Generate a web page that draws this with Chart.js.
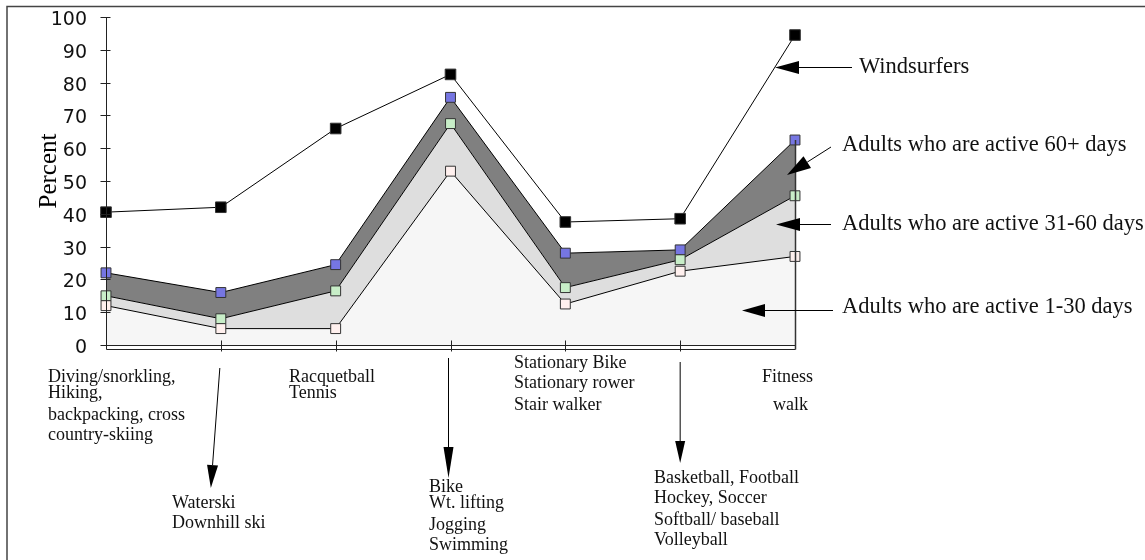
<!DOCTYPE html>
<html lang="en">
<head>
  <meta charset="UTF-8" />
  <title>Activity by sport</title>
  <script src="https://cdn.jsdelivr.net/npm/chart.js"></script>
  <style>
    body { margin: 0; background: #fff; }
    canvas { display: block; }
  </style>
</head>
<body>
  <canvas id="activityChart" width="1145" height="560"></canvas>
  <script>
    // one point per group of sports
    const categories = [
      'Diving/snorkling, Hiking, backpacking, cross country-skiing',
      'Waterski, Downhill ski',
      'Racquetball, Tennis',
      'Bike, Wt. lifting, Jogging, Swimming',
      'Stationary Bike, Stationary rower, Stair walker',
      'Basketball, Football, Hockey, Soccer, Softball/ baseball, Volleyball',
      'Fitness walk'
    ];
    const windsurfers = [40.5, 42, 66, 82.5, 37.5, 38.5, 94.5];
    const active60 = [22, 16, 24.5, 75.5, 28, 29, 62.5];
    const active31to60 = [15, 8, 16.5, 67.5, 17.5, 26, 45.5];
    const active1to30 = [12, 5, 5, 53, 12.5, 22.5, 27];
    const yTicks = [0, 10, 20, 30, 40, 50, 60, 70, 80, 90, 100];

    const seriesNames = [
      'Windsurfers',
      'Adults who are active 60+ days',
      'Adults who are active 31-60 days',
      'Adults who are active 1-30 days'
    ];

    const serif = '"Liberation Serif", "Times New Roman", serif';

    function arrow(ctx, x1, y1, x2, y2, len, half) {
      const a = Math.atan2(y2 - y1, x2 - x1);
      const bx = x2 - Math.cos(a) * len, by = y2 - Math.sin(a) * len;
      ctx.beginPath();
      ctx.moveTo(x1, y1);
      ctx.lineTo(bx, by);
      ctx.stroke();
      ctx.beginPath();
      ctx.moveTo(x2, y2);
      ctx.lineTo(bx + Math.sin(a) * half, by - Math.cos(a) * half);
      ctx.lineTo(bx - Math.sin(a) * half, by + Math.cos(a) * half);
      ctx.closePath();
      ctx.fill();
    }

    // axes, frame, category notes and series callouts
    const decorations = {
      id: 'decorations',
      afterDraw(chart) {
        const { ctx, scales: { x, y } } = chart;
        const x0 = Math.round(x.left) + 0.5;
        const x1 = Math.round(x.right) + 0.5;
        const yb = Math.round(y.getPixelForValue(0)) + 0.5;
        ctx.save();

        // outer frame (only top and left show)
        ctx.strokeStyle = '#444';
        ctx.lineWidth = 1.5;
        ctx.strokeRect(7, 6.5, 1200, 600);
        ctx.strokeStyle = '#222';
        ctx.lineWidth = 1;

        // y axis with crossing ticks
        ctx.beginPath();
        ctx.moveTo(x0, Math.round(y.getPixelForValue(100)));
        ctx.lineTo(x0, yb + 4);
        y.ticks.forEach(t => {
          const py = Math.round(y.getPixelForValue(t.value)) + 0.5;
          ctx.moveTo(x0 - 6, py);
          ctx.lineTo(x0 + 4, py);
        });
        // double x axis
        ctx.moveTo(x0, yb);
        ctx.lineTo(x1, yb);
        ctx.moveTo(x0, yb + 4);
        ctx.lineTo(x1, yb + 4);
        for (let i = 1; i < categories.length - 1; i++) {
          const px = Math.round(x.getPixelForValue(i)) + 0.5;
          ctx.moveTo(px, yb - 5);
          ctx.lineTo(px, yb + 6);
        }
        ctx.stroke();

        // right edge of the areas
        const last = categories.length - 1;
        ctx.beginPath();
        ctx.lineWidth = 1.5;
        ctx.strokeStyle = '#333';
        ctx.moveTo(x1, y.getPixelForValue(active60[last]));
        ctx.lineTo(x1, yb + 4);
        ctx.stroke();
        ctx.lineWidth = 1;

        // y title
        ctx.save();
        ctx.translate(49, 171);
        ctx.rotate(-Math.PI / 2);
        ctx.font = '25px ' + serif;
        ctx.textAlign = 'center';
        ctx.textBaseline = 'middle';
        ctx.fillStyle = '#000';
        ctx.fillText('Percent', 0, 0);
        ctx.restore();

        // category notes
        ctx.font = '18px ' + serif;
        ctx.textAlign = 'left';
        ctx.textBaseline = 'alphabetic';
        const notes = [
          [48, [['Diving/snorkling,', 382], ['Hiking,', 398], ['backpacking, cross', 420], ['country-skiing', 440]]],
          [172, [['Waterski', 508], ['Downhill ski', 528]]],
          [289, [['Racquetball', 382], ['Tennis', 398]]],
          [429, [['Bike', 492], ['Wt. lifting', 508], ['Jogging', 530], ['Swimming', 550]]],
          [514, [['Stationary Bike', 368], ['Stationary rower', 388], ['Stair walker', 410]]],
          [654, [['Basketball, Football', 483], ['Hockey, Soccer', 503], ['Softball/ baseball', 525], ['Volleyball', 545]]],
          [762, [['Fitness', 382]]],
          [773, [['walk', 410]]]
        ];
        ctx.fillStyle = '#111';
        notes.forEach(([lx, lines]) => lines.forEach(([txt, by]) => ctx.fillText(txt, lx, by)));

        ctx.fillStyle = '#000';
        ctx.strokeStyle = '#000';
        const px1 = x.getPixelForValue(1), px3 = x.getPixelForValue(3), px5 = x.getPixelForValue(5);
        arrow(ctx, px1 - 1, 368, px1 - 10, 488, 23, 5.5);
        arrow(ctx, px3 - 2, 358, px3 - 2, 478, 31, 5);
        arrow(ctx, px5, 362, px5, 463, 22, 5);

        // series callouts
        ctx.font = '22.5px ' + serif;
        ctx.fillStyle = '#111';
        ctx.fillText(seriesNames[0], 859, 73);
        ctx.fillText(seriesNames[1], 842, 151);
        ctx.fillText(seriesNames[2], 842, 230);
        ctx.fillText(seriesNames[3], 842, 313);
        ctx.fillStyle = '#000';
        arrow(ctx, 852, 67.5, 775, 67.5, 24, 6.5);
        arrow(ctx, 831, 147, 787, 175, 24, 7);
        arrow(ctx, 831, 224.5, 776, 224.5, 24, 6.5);
        arrow(ctx, 833, 310.5, 742, 310.5, 23, 6.5);
        ctx.restore();
      }
    };

    const pointOpts = (fill, r) => ({
      pointStyle: 'rect',
      pointRadius: r,
      pointBackgroundColor: fill,
      pointBorderColor: '#333',
      pointBorderWidth: 1
    });

    new Chart(document.getElementById('activityChart'), {
      type: 'line',
      data: {
        labels: categories,
        datasets: [
          Object.assign({
            label: seriesNames[3], data: active1to30, fill: 'origin',
            backgroundColor: '#f6f6f6', borderColor: '#000', borderWidth: 1, clip: false
          }, pointOpts('#fff0ee', 7)),
          Object.assign({
            label: seriesNames[2], data: active31to60, fill: '-1',
            backgroundColor: '#dedede', borderColor: '#000', borderWidth: 1, clip: false
          }, pointOpts('#c8eec8', 7)),
          Object.assign({
            label: seriesNames[1], data: active60, fill: '-1',
            backgroundColor: '#808080', borderColor: '#000', borderWidth: 1, clip: false
          }, pointOpts('#7676e2', 7)),
          Object.assign({
            label: seriesNames[0], data: windsurfers, fill: false,
            borderColor: '#000', borderWidth: 1, clip: false
          }, pointOpts('#000', 7.5))
        ]
      },
      options: {
        responsive: false,
        devicePixelRatio: 1,
        animation: false,
        layout: { padding: { left: 0, top: 17, right: 350, bottom: 0 } },
        plugins: { legend: { display: false }, tooltip: { enabled: false } },
        elements: { line: { tension: 0 } },
        scales: {
          x: {
            type: 'category',
            offset: false,
            grid: { display: false },
            border: { display: false },
            ticks: { display: false },
            afterFit: s => { s.height = 215; s.paddingLeft = 0; s.paddingRight = 0; }
          },
          y: {
            min: 0,
            max: 100,
            afterBuildTicks: s => { s.ticks = yTicks.map(v => ({ value: v })); },
            grid: { display: false, drawTicks: false },
            border: { display: false },
            ticks: {
              padding: 19,
              labelOffset: 3,
              color: '#111',
              font: { family: '"DejaVu Sans", Verdana, sans-serif', size: 19 }
            },
            afterFit: s => { s.width = 106; s.paddingTop = 0; s.paddingBottom = 0; }
          }
        }
      },
      plugins: [decorations]
    });
  </script>
</body>
</html>
